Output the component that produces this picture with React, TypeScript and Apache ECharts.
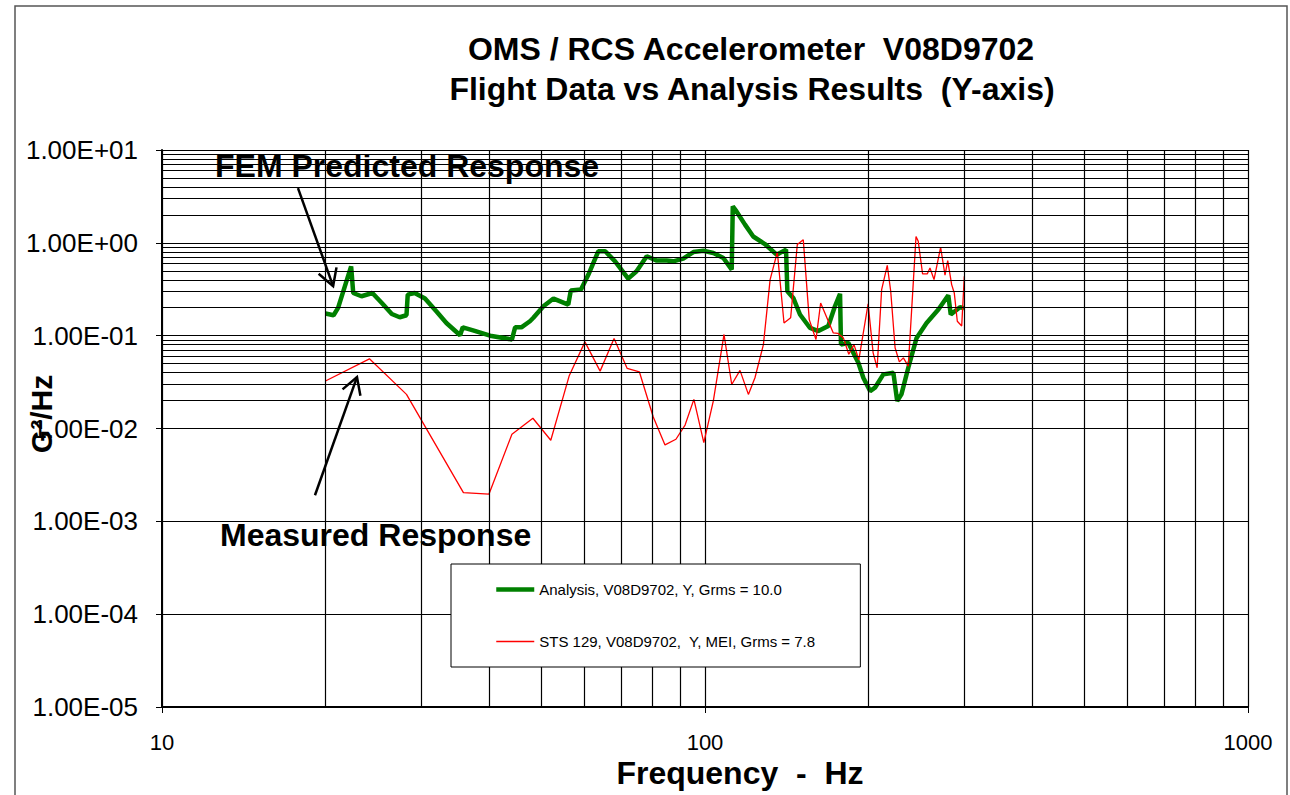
import React, { useEffect, useRef } from "react";
import * as echarts from "echarts";

// ---------- data ----------
const analysisFreq = [
  20.0, 20.7, 21.1, 22.3, 22.5, 23.3, 24.4, 25.4, 26.5, 27.4, 28.2, 28.35, 29.2, 30.5, 32.0, 33.4,
  35.4, 35.8, 37.4, 40.2, 44.1, 44.7, 45.9, 47.6, 48.3, 50.4, 52.6, 56.0, 56.6, 59.1, 61.0, 63.6,
  65.5, 68.3, 72.2, 74.8, 78.1, 81.5, 85.0, 87.4, 91.2, 95.2, 99.3, 103.6, 108.1, 112.0, 112.5,
  114.3, 118.5, 122.7, 128.9, 135.5, 141.0, 141.8, 145.4, 149.6, 156.1, 161.7, 168.7, 173.5,
  177.3, 178.0, 183.6, 191.6, 195.7, 201.4, 205.6, 213.0, 222.3, 225.9, 230.0, 236.8, 245.3,
  255.9, 269.0, 280.6, 283.5, 294.8, 300.0,
];
const analysisPsd = [
  0.173, 0.166, 0.199, 0.558, 0.288, 0.266, 0.288, 0.225, 0.171, 0.158, 0.166, 0.277, 0.288, 0.251,
  0.183, 0.137, 0.101, 0.123, 0.114, 0.1, 0.091, 0.123, 0.123, 0.143, 0.156, 0.207, 0.251, 0.216,
  0.306, 0.314, 0.455, 0.811, 0.811, 0.632, 0.412, 0.494, 0.716, 0.644, 0.644, 0.632, 0.676, 0.796,
  0.822, 0.776, 0.687, 0.515, 2.47, 2.18, 1.57, 1.17, 0.971, 0.746, 0.845, 0.301, 0.255, 0.169,
  0.121, 0.112, 0.127, 0.207, 0.282, 0.08, 0.0838, 0.051, 0.0352, 0.0253, 0.0275, 0.0383, 0.0398,
  0.0198, 0.0233, 0.0451, 0.0946, 0.137, 0.191, 0.272, 0.169, 0.202, 0.198,
];

const measuredFreq = [
  20.0, 24.1, 28.2, 35.9, 40.0, 44.1, 48.2, 52.0, 56.2, 60.1, 64.1, 68.0, 71.9, 75.7, 80.3, 84.4,
  88.4, 91.9, 95.4, 99.5, 103.6, 108.4, 112.0, 116.0, 120.2, 123.6, 128.1, 131.8, 135.9, 139.8,
  143.8, 147.9, 151.7, 155.6, 160.1, 163.3, 172.3, 175.7, 179.8, 184.0, 188.1, 192.0, 199.7, 204.0,
  207.5, 211.5, 216.6, 219.8, 223.9, 228.0, 231.9, 236.8, 244.7, 247.0, 251.6, 256.6, 259.6, 264.1,
  271.6, 276.7, 279.9, 284.6, 287.8, 291.5, 297.0, 300.3,
];
const measuredPsd = [
  0.0325, 0.0563, 0.0233, 0.00204, 0.00196, 0.00867, 0.0129, 0.00747, 0.0367, 0.0857, 0.0415,
  0.0933, 0.0444, 0.0408, 0.0133, 0.00665, 0.00766, 0.0109, 0.0206, 0.00703, 0.0198, 0.103, 0.0298,
  0.0423, 0.0233, 0.0352, 0.08, 0.402, 0.796, 0.137, 0.156, 0.957, 1.08, 0.149, 0.091, 0.225, 0.107,
  0.106, 0.0946, 0.063, 0.08, 0.055, 0.22, 0.0653, 0.0451, 0.314, 0.573, 0.301, 0.074, 0.0522,
  0.0577, 0.047, 1.17, 1.04, 0.462, 0.462, 0.536, 0.402, 0.895, 0.448, 0.644, 0.355, 0.288, 0.143,
  0.127, 0.436,
];

const xMinorTicks = [20, 30, 40, 50, 60, 70, 80, 90, 200, 300, 400, 500, 600, 700, 800, 900];
const yDecades = [1e-5, 1e-4, 1e-3, 1e-2, 1e-1, 1];
const yMinorMultipliers = [2, 3, 4, 5, 6, 7, 8, 9];
const xTickLabels = ["10", "100", "1000"];
const yTickLabels = ["1.00E-05", "1.00E-04", "1.00E-03", "1.00E-02", "1.00E-01", "1.00E+00", "1.00E+01"];

const seriesNames = ["Analysis, V08D9702, Y, Grms = 10.0", "STS 129, V08D9702,  Y, MEI, Grms = 7.8"];

// annotation arrows, anchored in data coordinates: [tail, tip]
const femArrow = [[17.8, 3.89], [20.66, 0.342]];
const measArrow = [[19.13, 0.00191], [22.86, 0.0358]];

const FONT = "'Liberation Sans', Arial, sans-serif";

function arrowGraphics(chart: any, pair: number[][], id: string) {
  const tail = chart.convertToPixel({ gridIndex: 0 }, pair[0]);
  const tip = chart.convertToPixel({ gridIndex: 0 }, pair[1]);
  const dx = tail[0] - tip[0];
  const dy = tail[1] - tip[1];
  const len = Math.sqrt(dx * dx + dy * dy);
  const ux = dx / len;
  const uy = dy / len;
  const hl = 19;
  const a = (30 * Math.PI) / 180;
  const rot = (ang: number) => [
    tip[0] + hl * (ux * Math.cos(ang) - uy * Math.sin(ang)),
    tip[1] + hl * (ux * Math.sin(ang) + uy * Math.cos(ang)),
  ];
  const stroke = { stroke: "#000", lineWidth: 2.5, fill: null as any };
  return [
    { id: id + "-shaft", type: "polyline", z: 100, shape: { points: [tail, tip] }, style: stroke, silent: true },
    { id: id + "-head", type: "polyline", z: 100, shape: { points: [rot(a), tip, rot(-a)] }, style: stroke, silent: true },
  ];
}

export default function App() {
  const ref = useRef<HTMLDivElement>(null);

  useEffect(() => {
    const chart = echarts.init(ref.current!, null, { renderer: "svg" });

    const yMinorTicks: number[] = [];
    yDecades.forEach((d) => yMinorMultipliers.forEach((m) => yMinorTicks.push(d * m)));

    const minorLines = [
      ...xMinorTicks.map((v) => ({ xAxis: v })),
      ...yMinorTicks.map((v) => ({ yAxis: v })),
    ];

    const option: any = {
      animation: false,
      backgroundColor: "#fff",
      grid: { left: 162, right: 42, top: 150, bottom: 88, containLabel: false, outerBoundsMode: "none" },
      xAxis: {
        type: "log",
        logBase: 10,
        min: 10,
        max: 1000,
        splitNumber: 2,
        axisLine: { show: true, onZero: false, lineStyle: { color: "#000", width: 2 } },
        axisTick: { show: true, inside: false, length: 6, lineStyle: { color: "#000", width: 1 } },
        axisLabel: {
          color: "#000",
          fontSize: 22,
          lineHeight: 22,
          fontFamily: FONT,
          margin: 24,
          formatter: (v: number) => xTickLabels[Math.round(Math.log10(v)) - 1] ?? "",
        },
        splitLine: { show: true, lineStyle: { color: "#000", width: 1.2 } },
        name: "Frequency  -  Hz",
        nameLocation: "middle",
        nameGap: 50,
        nameMoveOverlap: false,
        nameTextStyle: {
          color: "#000",
          fontSize: 32,
          lineHeight: 32,
          fontWeight: "bold",
          fontFamily: FONT,
          padding: [0, 0, 0, 70],
        },
      },
      yAxis: {
        type: "log",
        logBase: 10,
        min: 1e-5,
        max: 10,
        splitNumber: 6,
        axisLine: { show: true, lineStyle: { color: "#000", width: 2 } },
        axisTick: { show: true, inside: false, length: 6, lineStyle: { color: "#000", width: 1 } },
        axisLabel: {
          color: "#000",
          fontSize: 26,
          fontFamily: FONT,
          margin: 24,
          formatter: (v: number) => yTickLabels[Math.round(Math.log10(v)) + 5] ?? "",
        },
        splitLine: { show: true, lineStyle: { color: "#000", width: 1.2 } },
      },
      legend: {
        data: [
          { name: seriesNames[0], lineStyle: { width: 4.5 } },
          { name: seriesNames[1], lineStyle: { width: 1.3 } },
        ],
        orient: "vertical",
        left: 451,
        top: 564,
        padding: [18, 45, 18, 43],
        itemGap: 37,
        itemWidth: 38,
        itemHeight: 15,
        itemStyle: { opacity: 0 },
        backgroundColor: "#fff",
        borderColor: "#000",
        borderWidth: 1,
        borderRadius: 0,
        textStyle: { color: "#000", fontSize: 15, lineHeight: 15, fontFamily: FONT },
        selectedMode: false,
        z: 20,
      },
      series: [
        {
          name: "gridlines",
          type: "line",
          data: [[10, 1e-5]],
          symbol: "none",
          lineStyle: { width: 0, opacity: 0 },
          silent: true,
          z: 1,
          markLine: {
            silent: true,
            symbol: ["none", "none"],
            label: { show: false },
            lineStyle: { color: "#000", width: 1.2, type: "solid" },
            emphasis: { disabled: true },
            data: minorLines,
          },
        },
        {
          name: seriesNames[0],
          type: "line",
          data: analysisFreq.map((f, i) => [f, analysisPsd[i]]),
          symbol: "none",
          smooth: false,
          lineStyle: { color: "#008000", width: 4.5 },
          itemStyle: { color: "#008000" },
          z: 3,
        },
        {
          name: seriesNames[1],
          type: "line",
          data: measuredFreq.map((f, i) => [f, measuredPsd[i]]),
          symbol: "none",
          smooth: false,
          lineStyle: { color: "#ff0000", width: 1.3 },
          itemStyle: { color: "#ff0000" },
          z: 4,
        },
      ],
      graphic: [
        {
          id: "frame",
          type: "rect",
          shape: { x: 15, y: 6, width: 1272, height: 800 },
          style: { fill: null, stroke: "#555", lineWidth: 1.5 },
          silent: true,
          z: 0,
        },
        {
          id: "title1",
          type: "text",
          x: 751,
          y: 49,
          style: {
            text: "OMS / RCS Accelerometer  V08D9702",
            fill: "#000",
            font: `bold 32px ${FONT}`,
            align: "center",
            verticalAlign: "middle",
          },
          z: 50,
        },
        {
          id: "title2",
          type: "text",
          x: 752,
          y: 89,
          style: {
            text: "Flight Data vs Analysis Results  (Y-axis)",
            fill: "#000",
            font: `bold 32px ${FONT}`,
            align: "center",
            verticalAlign: "middle",
          },
          z: 50,
        },
        {
          id: "yname",
          type: "text",
          x: 41,
          y: 414,
          rotation: Math.PI / 2,
          style: {
            text: "G²/Hz",
            fill: "#000",
            font: `bold 30px ${FONT}`,
            align: "center",
            verticalAlign: "middle",
          },
          z: 50,
        },
        {
          id: "femText",
          type: "text",
          x: 215,
          y: 166,
          style: {
            text: "FEM Predicted Response",
            fill: "#000",
            font: `bold 32px ${FONT}`,
            align: "left",
            verticalAlign: "middle",
          },
          z: 60,
        },
        {
          id: "measText",
          type: "text",
          x: 220,
          y: 535,
          style: {
            text: "Measured Response",
            fill: "#000",
            font: `bold 32px ${FONT}`,
            align: "left",
            verticalAlign: "middle",
          },
          z: 60,
        },
      ],
    };

    chart.setOption(option);
    chart.setOption({
      graphic: [...arrowGraphics(chart, femArrow, "fem"), ...arrowGraphics(chart, measArrow, "meas")],
    });

    return () => chart.dispose();
  }, []);

  return (
    <div
      ref={ref}
      style={{ position: "fixed", left: 0, top: 0, width: 1290, height: 795, background: "#fff" }}
    />
  );
}
